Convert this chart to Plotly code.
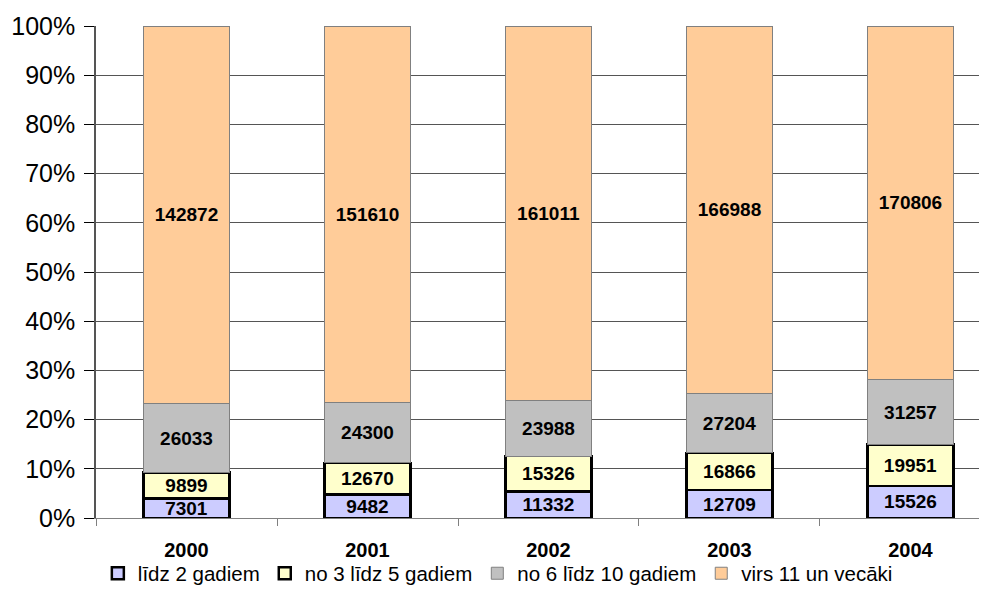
import plotly.graph_objects as go

years = ["2000", "2001", "2002", "2003", "2004"]
series_names = ["līdz 2 gadiem", "no 3 līdz 5 gadiem", "no 6 līdz 10 gadiem", "virs 11 un vecāki"]
s1 = [7301, 9482, 11332, 12709, 15526]
s2 = [9899, 12670, 15326, 16866, 19951]
s3 = [26033, 24300, 23988, 27204, 31257]
s4 = [142872, 151610, 161011, 166988, 170806]

colors = ["#CCCCFF", "#FFFFCC", "#C0C0C0", "#FFCC99"]
line_colors = ["#000000", "#000000", "#808080", "#808080"]
line_widths = [2.5, 2.5, 1, 1]

fig = go.Figure()
for name, vals, c, lc, lw in zip(series_names, [s1, s2, s3, s4], colors, line_colors, line_widths):
    fig.add_trace(go.Bar(
        x=years, y=vals, name=name,
        marker=dict(color=c, line=dict(color=lc, width=lw)),
        text=[str(v) for v in vals], textposition="inside", insidetextanchor="middle",
        textfont=dict(family="Arial", size=19, color="black"),
        texttemplate="<b>%{text}</b>", textangle=0,
        width=0.475,
    ))

fig.update_layout(
    barmode="stack", barnorm="percent",
    width=979, height=584,
    margin=dict(l=88, r=0, t=18, b=74, autoexpand=False),
    plot_bgcolor="white", paper_bgcolor="white",
    font=dict(family="Arial", color="black"),
    uniformtext=dict(minsize=19, mode="show"),
    legend=dict(orientation="h", x=0.451, xanchor="center", y=-0.072, yanchor="top",
                bgcolor="rgba(0,0,0,0)",
                font=dict(family="Arial", size=20.5, color="black"), traceorder="normal",
                itemwidth=30, tracegroupgap=0),
    xaxis=dict(range=[-0.5, 4.4227], showline=True, linecolor="#808080", linewidth=1,
               ticks="outside", tickson="boundaries", ticklen=7, tickcolor="#808080",
               ticklabelstandoff=14,
               tickfont=dict(family="Arial", size=20, color="black", weight="bold")),
    yaxis=dict(range=[0, 100], dtick=10, ticksuffix="%", showgrid=True, gridcolor="#555555",
               gridwidth=1, showline=True, linecolor="#555555", linewidth=1.5,
               ticks="outside", ticklen=10, tickcolor="#000000", ticklabelstandoff=4,
               tickfont=dict(family="Arial", size=25, color="black")),
)
fig.write_html("out.html")
